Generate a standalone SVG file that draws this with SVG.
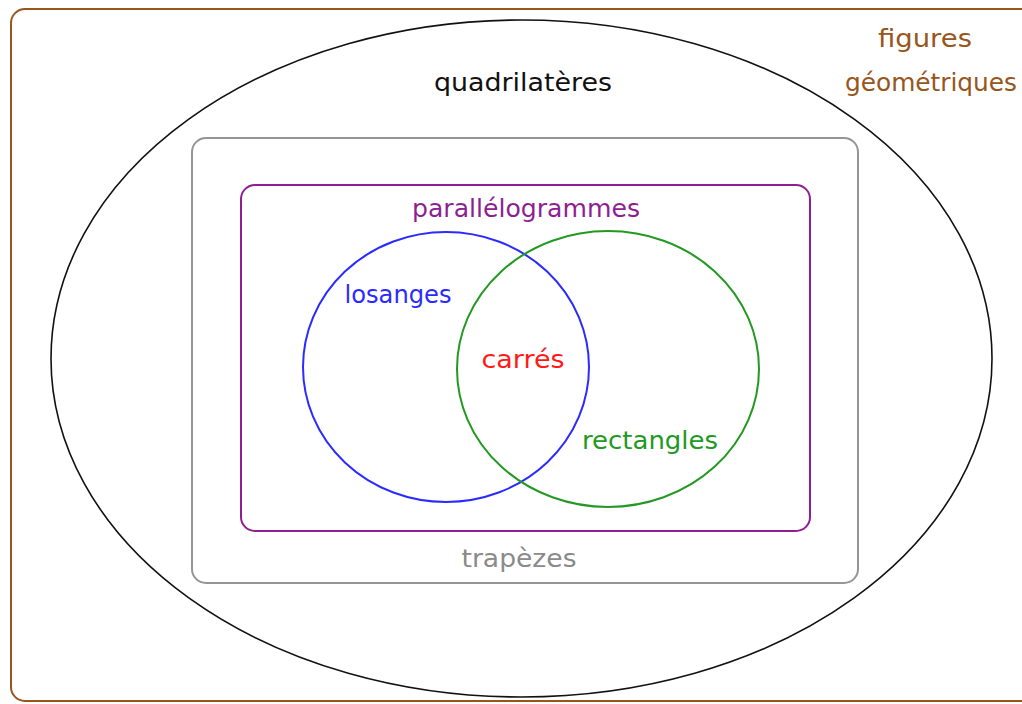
<svg xmlns="http://www.w3.org/2000/svg" width="1022" height="704" viewBox="0 0 1022 704">
<style>
  text { font-family: "DejaVu Sans", "Liberation Sans", sans-serif; font-size: 24px; text-anchor: middle; }
  .shape { fill: none; }
</style>
<rect width="1022" height="704" fill="#ffffff"/>
<g id="figures">
  <rect class="shape" x="11" y="9" width="1040" height="692" rx="14" ry="14" stroke="#96561c" stroke-width="2"/>
  <text x="925" y="47" fill="#96561c" textLength="94" lengthAdjust="spacingAndGlyphs">figures</text>
  <text x="931" y="91" fill="#96561c" textLength="172" lengthAdjust="spacingAndGlyphs">géométriques</text>
</g>
<g id="quadrilateres">
  <ellipse class="shape" cx="521.5" cy="358.5" rx="470.5" ry="338.5" stroke="#111111" stroke-width="1.6"/>
  <text x="523" y="91" fill="#111111" textLength="178" lengthAdjust="spacingAndGlyphs">quadrilatères</text>
</g>
<g id="trapezes">
  <rect class="shape" x="192" y="138" width="666" height="445" rx="14" ry="14" stroke="#959595" stroke-width="2"/>
  <text x="519" y="567" fill="#8a8a8a" textLength="115" lengthAdjust="spacingAndGlyphs">trapèzes</text>
</g>
<g id="parallelogrammes">
  <rect class="shape" x="241" y="185" width="569" height="346" rx="14" ry="14" stroke="#8e1f92" stroke-width="2"/>
  <text x="526" y="217" fill="#8e1f92" textLength="228" lengthAdjust="spacingAndGlyphs">parallélogrammes</text>
</g>
<g id="losanges">
  <ellipse class="shape" cx="446" cy="367" rx="143" ry="135" stroke="#2b2bff" stroke-width="2"/>
  <text x="398" y="303" fill="#2b2bff" textLength="107" lengthAdjust="spacingAndGlyphs">losanges</text>
</g>
<g id="rectangles">
  <ellipse class="shape" cx="608" cy="369" rx="151" ry="138" stroke="#229922" stroke-width="2"/>
  <text x="650" y="449" fill="#229922" textLength="136" lengthAdjust="spacingAndGlyphs">rectangles</text>
</g>
<g id="carres">
  <text x="523" y="368" fill="#ff1a1a" textLength="83" lengthAdjust="spacingAndGlyphs">carrés</text>
</g>
<g id="connectors"/>
</svg>
